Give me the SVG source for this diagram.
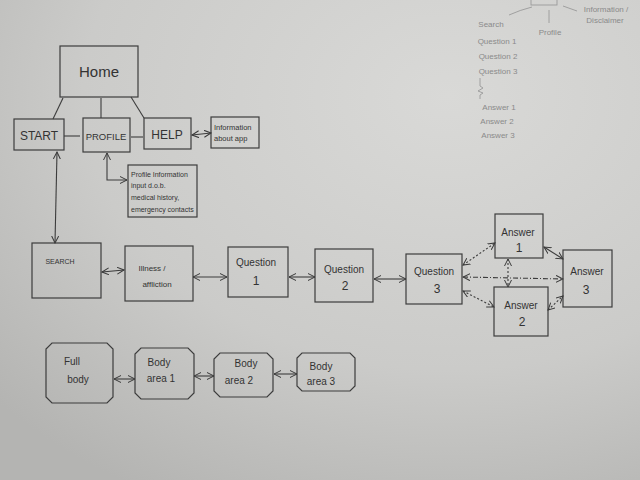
<svg xmlns="http://www.w3.org/2000/svg" width="640" height="480" viewBox="0 0 640 480">
<defs>
<radialGradient id="paper" cx="0.7" cy="0.2" r="0.95">
<stop offset="0" stop-color="#d9d9d7"/>
<stop offset="0.6" stop-color="#cbcbc9"/>
<stop offset="1" stop-color="#b4b4b2"/>
</radialGradient>
<marker id="ah" viewBox="0 0 8 8" refX="7" refY="4" markerWidth="8" markerHeight="8" markerUnits="userSpaceOnUse" orient="auto-start-reverse">
<path d="M0,0.5 L7,4 L0,7.5" fill="none" stroke="#3a3a3a" stroke-width="1"/>
</marker>
</defs>
<style>
.box{fill:none;stroke:#3c3c3c;stroke-width:1.2}
.ln{fill:none;stroke:#3c3c3c;stroke-width:1.1}
.ar{fill:none;stroke:#3c3c3c;stroke-width:1.1;marker-start:url(#ah);marker-end:url(#ah)}
.dot{stroke-dasharray:2 2}
.dd{stroke-dasharray:5 2 1 2}
.t{font-family:"Liberation Sans",Arial,sans-serif;fill:#333;text-anchor:middle}
.tl{text-anchor:start}
.s{font-size:8px}
.m{font-size:10px}
.l{font-size:12px}
.faint{fill:#8a8a8a}
.fl{fill:none;stroke:#9a9a9a;stroke-width:0.9}
</style>
<rect width="640" height="480" fill="url(#paper)"/>

<g id="connectors">
<line class="ln" x1="63" y1="98" x2="53" y2="119"/>
<line class="ln" x1="101" y1="98" x2="101" y2="118"/>
<line class="ln" x1="131" y1="97" x2="144" y2="118"/>
<line class="ln" x1="64" y1="136" x2="80" y2="136"/>
<line class="ln" x1="131" y1="137" x2="143" y2="137"/>
<line class="ar" x1="192" y1="135" x2="211" y2="133"/>
<path class="ar" d="M107,153 L107,180 L127,180"/>
<line class="ar" x1="57" y1="152" x2="55" y2="243"/>
<line class="ar" x1="102" y1="272" x2="124" y2="270"/>
<line class="ar" x1="193" y1="277" x2="227" y2="277"/>
<line class="ar" x1="289" y1="277" x2="315" y2="277"/>
<line class="ar" x1="374" y1="279" x2="406" y2="279"/>
<line class="ar dot" x1="463" y1="265" x2="495" y2="243"/>
<line class="ar dd" x1="463" y1="277" x2="563" y2="279"/>
<line class="ar dot" x1="463" y1="291" x2="494" y2="307"/>
<line class="ar dot" x1="508" y1="259" x2="508" y2="287"/>
<line class="ar" x1="544" y1="247" x2="563" y2="259"/>
<line class="ar dot" x1="548" y1="310" x2="563" y2="296"/>
<line class="ar" x1="114" y1="379" x2="135" y2="379"/>
<line class="ar" x1="194" y1="376" x2="214" y2="376"/>
<line class="ar" x1="274" y1="374" x2="297" y2="374"/>
</g>

<g id="home"><rect class="box" x="60" y="46" width="78" height="51"/><text class="t" x="99" y="77" font-size="15">Home</text></g>
<g id="start"><rect class="box" x="14" y="119" width="50" height="31"/><text class="t l" x="39" y="140">START</text></g>
<g id="profile"><rect class="box" x="83" y="118" width="47" height="34"/><text class="t" x="106" y="140" font-size="9.5">PROFILE</text></g>
<g id="help"><rect class="box" x="144" y="118" width="47" height="31"/><text class="t l" x="167" y="139">HELP</text></g>
<g id="info-app"><rect class="box" x="211" y="117" width="48" height="31"/><text class="t tl" x="214" y="130" font-size="7.5">Information</text><text class="t tl" x="214" y="141" font-size="7.5">about app</text></g>
<g id="profile-info"><rect class="box" x="128" y="165" width="69" height="52"/>
<text class="t tl" x="131" y="177" font-size="7">Profile Information</text>
<text class="t tl" x="131" y="188" font-size="7">input  d.o.b.</text>
<text class="t tl" x="131" y="200" font-size="7">medical history,</text>
<text class="t tl" x="131" y="212" font-size="7">emergency contacts</text></g>

<g id="search"><rect class="box" x="32" y="243" width="69" height="55"/><text class="t" x="60" y="264" font-size="7">SEARCH</text></g>
<g id="illness"><rect class="box" x="125" y="246" width="68" height="55"/><text class="t s" x="152" y="271">Illness /</text><text class="t s" x="157" y="287">affliction</text></g>
<g id="question1"><rect class="box" x="228" y="247" width="60" height="50"/><text class="t m" x="256" y="266">Question</text><text class="t l" x="256" y="285">1</text></g>
<g id="question2"><rect class="box" x="315" y="249" width="58" height="53"/><text class="t m" x="344" y="273">Question</text><text class="t l" x="345" y="290">2</text></g>
<g id="question3"><rect class="box" x="406" y="254" width="56" height="50"/><text class="t m" x="434" y="275">Question</text><text class="t l" x="437" y="293">3</text></g>
<g id="answer1"><rect class="box" x="495" y="214" width="48" height="44"/><text class="t m" x="518" y="236">Answer</text><text class="t l" x="519" y="252">1</text></g>
<g id="answer2"><rect class="box" x="494" y="287" width="54" height="49"/><text class="t m" x="521" y="309">Answer</text><text class="t l" x="522" y="326">2</text></g>
<g id="answer3"><rect class="box" x="563" y="250" width="49" height="57"/><text class="t m" x="587" y="275">Answer</text><text class="t l" x="586" y="294">3</text></g>

<g id="full-body"><path class="box" d="M52,343 L107,343 L113,349 L113,397 L107,403 L52,403 L46,397 L46,349 Z"/><text class="t m" x="72" y="365">Full</text><text class="t m" x="78" y="383">body</text></g>
<g id="body-area-1"><path class="box" d="M141,348 L188,348 L194,354 L194,393 L188,399 L141,399 L135,393 L135,354 Z"/><text class="t m" x="159" y="366">Body</text><text class="t m" x="161" y="382">area 1</text></g>
<g id="body-area-2"><path class="box" d="M220,353 L267,353 L273,359 L273,391 L267,397 L220,397 L214,391 L214,359 Z"/><text class="t m" x="246" y="367">Body</text><text class="t m" x="239" y="384">area 2</text></g>
<g id="body-area-3"><path class="box" d="M302,353 L350,353 L355,358 L355,386 L350,391 L302,391 L297,386 L297,358 Z"/><text class="t m" x="321" y="370">Body</text><text class="t m" x="321" y="385">area 3</text></g>

<g id="sitemap-sketch">
<rect class="fl" x="531" y="-4" width="26" height="9"/>
<path class="fl" d="M532,7 Q520,10 509,15"/>
<line class="fl" x1="549" y1="10" x2="549" y2="23"/>
<line class="fl" x1="563" y1="6" x2="577" y2="11"/>
<path class="fl" d="M480,78 L480,86 L483,88 L478,91 L483,93 L480,95 L480,99"/>
<g class="t faint" font-size="8">
<text x="491" y="27">Search</text>
<text x="550" y="35">Profile</text>
<text x="606" y="12">Information /</text>
<text x="605" y="23">Disclaimer</text>
<text x="497" y="44">Question 1</text>
<text x="498" y="59">Question 2</text>
<text x="498" y="74">Question 3</text>
<text x="499" y="110">Answer 1</text>
<text x="497" y="124">Answer 2</text>
<text x="498" y="138">Answer 3</text>
</g>
</g>
</svg>
